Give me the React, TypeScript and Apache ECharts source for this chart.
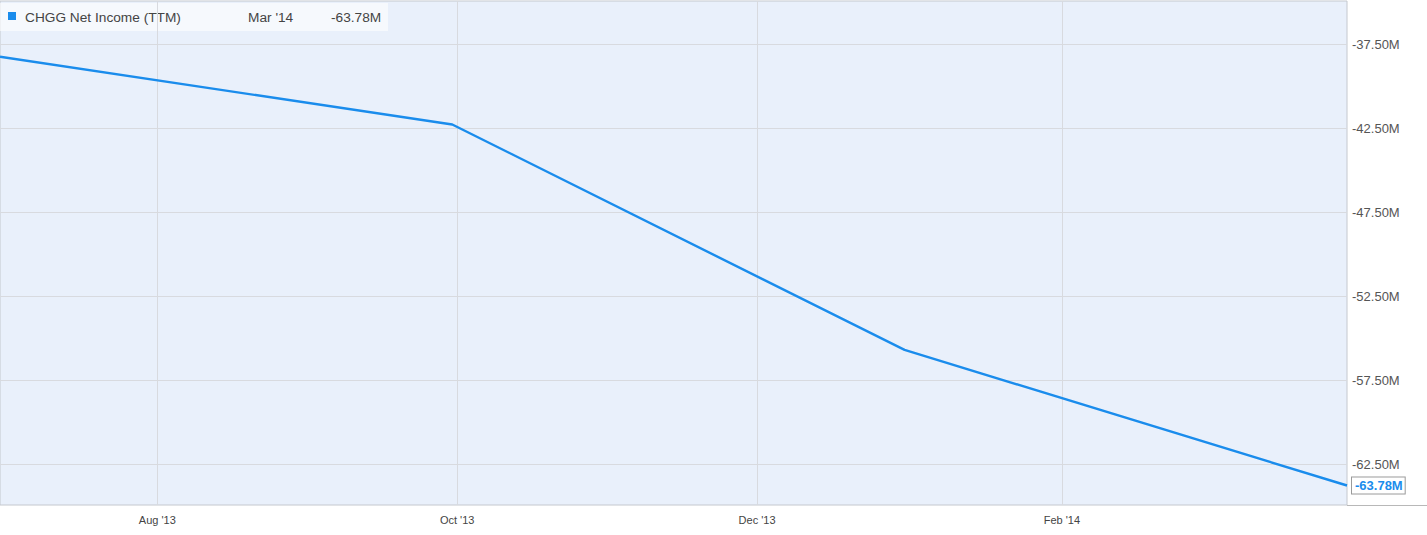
import React, { useEffect, useRef } from "react";
import * as echarts from "echarts";

const seriesName = "CHGG Net Income (TTM)";
const dates = ["2013-06-30", "2013-09-30", "2013-12-31", "2014-03-31"];
const valuesM = [-38.26, -42.29, -55.71, -63.78];
const xTickDates = ["2013-08-01", "2013-10-01", "2013-12-01", "2014-02-01"];
const xTickLabels = ["Aug '13", "Oct '13", "Dec '13", "Feb '14"];
const yTickValues = [-62.5, -57.5, -52.5, -47.5, -42.5, -37.5];
const xMinDate = "2013-06-30";
const xMaxDate = "2014-03-31";
const yMin = -64.94;
const yMax = -34.94;
const monthNames = ["Jan", "Feb", "Mar", "Apr", "May", "Jun", "Jul", "Aug", "Sep", "Oct", "Nov", "Dec"];

const toTs = (s: string) => {
  const [y, m, d] = s.split("-").map(Number);
  return Date.UTC(y, m - 1, d);
};
const fmtM = (v: number) => v.toFixed(2) + "M";

export default function App() {
  const ref = useRef<HTMLDivElement>(null);
  useEffect(() => {
    if (!ref.current) return;
    const chart = echarts.init(ref.current, null, { renderer: "svg" });
    const lineColor = "#1a8cec";
    const font = "Liberation Sans, Arial, sans-serif";
    const lastIdx = dates.length - 1;
    const lastDate = new Date(toTs(dates[lastIdx]));
    const lastDateLabel = monthNames[lastDate.getUTCMonth()] + " '" + String(lastDate.getUTCFullYear()).slice(2);
    const xTickTs = xTickDates.map(toTs);
    chart.setOption({
      animation: false,
      backgroundColor: "#ffffff",
      textStyle: { fontFamily: font },
      grid: {
        left: 0,
        right: 80,
        top: 1,
        bottom: 30,
        show: true,
        backgroundColor: "#e9f0fb",
        borderColor: "#c4c8ce",
        borderWidth: 1,
      },
      xAxis: {
        type: "value",
        min: toTs(xMinDate),
        max: toTs(xMaxDate),
        axisLine: {
          show: true,
          onZero: false,
          lineStyle: { color: "#9a9a9a", width: 1, shadowColor: "rgba(0,0,0,0.25)", shadowBlur: 2, shadowOffsetY: 1 },
        },
        axisTick: { show: false, customValues: xTickTs },
        axisLabel: {
          customValues: xTickTs,
          color: "#444",
          fontSize: 11,
          margin: 9,
          formatter: (v: number) => {
            const i = xTickTs.indexOf(v);
            return i >= 0 ? xTickLabels[i] : "";
          },
        },
        splitLine: { show: true, lineStyle: { color: "#d8dadf", width: 1 } },
      },
      yAxis: {
        type: "value",
        position: "right",
        min: yMin,
        max: yMax,
        axisLine: { show: false },
        axisTick: { show: false, customValues: yTickValues },
        axisLabel: {
          customValues: yTickValues,
          color: "#555",
          fontSize: 13,
          margin: 5,
          formatter: (v: number) => fmtM(v),
        },
        splitLine: { show: true, lineStyle: { color: "#d8dadf", width: 1 } },
      },
      series: [
        {
          type: "line",
          name: seriesName,
          data: dates.map((d, i) => [toTs(d), valuesM[i]]),
          showSymbol: false,
          symbol: "none",
          lineStyle: { color: lineColor, width: 2.4 },
          itemStyle: { color: lineColor },
          endLabel: {
            show: true,
            formatter: (p: any) => fmtM(p.value[1]),
            color: lineColor,
            fontWeight: "bold",
            fontSize: 13,
            backgroundColor: "#ffffff",
            borderColor: "#9a9a9a",
            borderWidth: 1,
            padding: [2, 2, 1, 3],
            distance: 5,
          },
        },
      ],
      graphic: [
        {
          type: "line",
          silent: true,
          shape: { x1: 1347, y1: 505.5, x2: 1427, y2: 505.5 },
          style: { stroke: "#b8b8b8", lineWidth: 1 },
        },
        {
          type: "rect",
          silent: true,
          shape: { x: 0, y: 3, width: 388, height: 28 },
          style: { fill: "rgba(255,255,255,0.6)" },
        },
        {
          type: "rect",
          silent: true,
          shape: { x: 8, y: 12, width: 8, height: 8 },
          style: { fill: lineColor },
        },
        {
          type: "text",
          silent: true,
          x: 25,
          y: 17,
          style: { text: seriesName, fill: "#444", font: "13.7px " + font, textVerticalAlign: "middle" },
        },
        {
          type: "text",
          silent: true,
          x: 248,
          y: 17,
          style: { text: lastDateLabel, fill: "#444", font: "13.7px " + font, textVerticalAlign: "middle" },
        },
        {
          type: "text",
          silent: true,
          x: 331,
          y: 17,
          style: { text: fmtM(valuesM[lastIdx]), fill: "#444", font: "13.7px " + font, textVerticalAlign: "middle" },
        },
      ],
    });
    return () => chart.dispose();
  }, []);
  return (
    <div
      ref={ref}
      style={{ position: "absolute", left: 0, top: 0, width: 1427, height: 535 }}
    />
  );
}
